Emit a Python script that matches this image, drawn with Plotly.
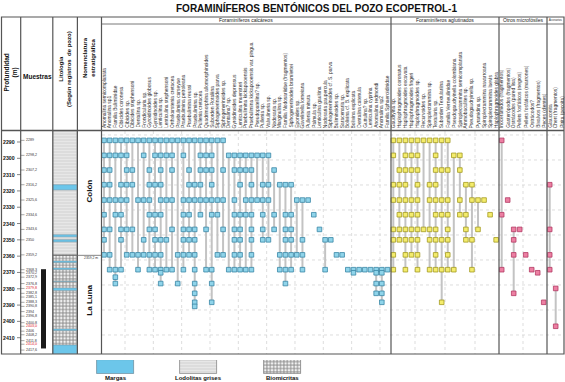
import plotly.graph_objects as go

# ---------------- DATA ----------------
depth_ticks = [2290, 2300, 2310, 2320, 2330, 2340, 2350, 2360, 2370, 2380, 2390, 2400, 2410]

sample_depths = [2289.0, 2298.2, 2307.2, 2316.2, 2325.6, 2334.6, 2343.6, 2350.0, 2359.2,
                 2368.3, 2370.2, 2372.9, 2376.8, 2379.8, 2382.8, 2385.1, 2388.3, 2390.8,
                 2394.0, 2396.8, 2400.8, 2403.0, 2406.0, 2408.2, 2411.8, 2414.0, 2417.6]
sample_labels = ["2289", "2298,2", "2307,2", "2316,2", "2325,6", "2334,6", "2343,6", "2350", "2359,2",
                 "2368,3", "2370,2", "2372,9", "2376,8", "2379,8", "2382,8", "2385,1", "2388,3", "2390,8",
                 "2394", "2396,8", "2400,8", "2403,0", "2406", "2408,2", "2411,8", "2414,0", "2417,6"]
red_labels = ["2379,8", "2403,0", "2414,0"]

calc_names = [
    "Anomalina semicomplanata", "Anomalina sp1", "Familia Buliminidae", "Cibicides coronesa",
    "Cibicides sp.", "Cibicides stephensoni", "Dentalina sp.", "Frondicularia sp.",
    "Gyroidinoides globosus", "Gyroidinoides sp.", "Lenticulina sp.", "Lenticulina stephensoni",
    "Orthokarstenia cretacea", "Praebulimina carseyae", "Praebulimina petroleana", "Praebulimina reussi",
    "Praebulimina sp.", "Pullenia cretacea", "Quadrimorphina allomorphinoides", "Suborden Rotaliina",
    "Siphogenerinoides parva", "Siphogenerinoides sp.", "Dentalina? sp.", "Gyroidinoides depressus",
    "Lenticulina muensteri", "Praebulimina kickapooensis", "Praebulimina kickapooensis var. pingua",
    "Pseudopatellina? sp.", "Pullenia sp.", "Valvulineria sp.", "Nodosaria sp.", "Marginulina sp.",
    "Familia Nodosariidae (fragmentos)", "Siphogenerinoides bramlettei", "Eponides sp.",
    "Gavelinella lorneiana", "Pullenia minuta", "Palmula sp.", "Lenticulina gaultina",
    "Nodosaria paupercula", "Siphogenerinoides cf. S. parva", "Buliminoides sp.", "Saracenaria sp.",
    "Bolivina cf. B. explicata", "Bolivina explicata", "Dentalina catenula", "Guttulina? sp.",
    "Lenticulina cyprina", "Anomalina redmondi", "Anomalina sp2", "Familia Sphaeroidinidae"]

agg_names = [
    "Gaudryina sp.", "Haplophragmoides coronatus", "Haplophragmoides excavata", "Haplophragmoides fingeri",
    "Haplophragmoides sp.", "Recurvoides sp.", "Spiroplectammina sp.", "Textularia sp.",
    "Suborden Textulariina", "Familia Verneuilinidae", "Pseudogaudryinella colombiana",
    "Spiroplectammina semicomplanata", "Ammobaculites sp.", "Pseudogaudryinella sp.", "Pyramidina sp.",
    "Spiroplectammina navarroana", "Spiroplectammina laevis", "Haplophragmoides glabra"]

other_names = ["Inocerámidos (fragmentos)", "Gasterópodos (fragmentos)", "Ostrácodos (pared lisa)",
               "Pellets fosfáticos (negros)", "Pellets fosfáticos (marrones)", "Ostrácodos?",
               "Bivalvos (fragmentos)", "Peces (dientes)"]

acc_names = ["Glauconita", "Chert (fragmentos)", "Pirita (pecoita)"]

# occurrences: sample index -> species indices present
calc_occ = {
    0: list(range(0, 22)),
    1: [0, 1, 2, 3, 4, 7, 9, 10, 11, 12, 14, 17, 18, 19, 22, 23, 24, 25, 26, 27, 28, 29],
    2: [0, 1, 4, 5, 8, 10, 12, 15, 17, 18, 19, 21, 23, 24, 25, 26, 30],
    3: [0, 1, 3, 4, 5, 8, 9, 10, 15, 16, 17, 19, 24, 26, 28, 29, 31, 32, 33],
    4: [0, 1, 2, 3, 4, 6, 7, 8, 10, 11, 12, 14, 15, 16, 17, 18, 19, 20, 21, 23, 25, 26, 27, 28, 29, 34, 35, 36],
    5: [0, 2, 3, 8, 9, 10, 14, 15, 17, 19, 20, 23, 24, 25, 26, 28, 30, 32, 33, 37],
    6: [0, 1, 3, 4, 5, 8, 9, 12, 14, 15, 16, 18, 21, 23, 24, 26, 28, 30, 32, 33, 38],
    7: [0, 3, 7, 9, 10, 11, 14, 15, 16, 23, 24, 26, 28, 29, 32, 33, 35, 39, 40],
    8: [0, 1, 4, 5, 6, 7, 8, 9, 10, 13, 14, 15, 16, 20, 21, 23, 24, 26, 31, 32, 33, 34, 35, 41, 42],
    9: [1, 2, 3, 6, 8, 9, 10, 11, 12, 14, 16, 18, 19, 22, 23, 24, 25, 26, 31, 32, 33, 35, 39,
        43, 44, 45, 46, 47, 48, 49, 50],
    10: [10, 44, 48, 49],
    11: [2],
    12: [2, 10, 13, 16, 19, 32, 48, 49],
    14: [16, 48, 49],
    16: [16, 19, 49],
    17: [16],
}
agg_occ = {
    0: list(range(0, 10)),
    1: [0, 2, 3, 4, 7, 10, 11],
    2: [1, 2, 3, 4, 7, 8, 9, 11],
    3: [0, 1, 2, 4, 6, 7, 12, 13],
    4: [0, 1, 2, 3, 4, 6, 7, 8, 9, 11, 13, 14, 15],
    5: [1, 2, 3, 4, 7, 8, 9, 11, 12, 16],
    6: [0, 1, 2, 3, 4, 5, 6, 7, 9, 12, 14],
    7: [0, 1, 2, 3, 4, 6, 7, 8, 9, 12, 13, 17],
    8: [0, 2, 3, 4, 7, 9],
    9: [0, 2, 4, 6, 7, 8, 9, 10, 13],
    16: [8],
}
other_occ = {0: [0], 4: [1], 5: [0], 6: [2, 3], 7: [2], 8: [2, 4], 9: [0, 5], 10: [6], 14: [2], 16: [7]}
acc_occ = {3: [0], 6: [0], 8: [0], 9: [0], 13: [1], 21: [1]}

lith_type = ["lod", "mar", "lod", "mar", "lod", "mar", "lod",
             "bio", "mar", "bio", "mar", "bio", "mar", "bio", "mar", "bio", "mar", "bio", "mar"]
lith_top = [2283.3, 2316.6, 2319.2, 2346.9, 2348.3, 2350.2, 2351.4,
            2359.5, 2363.0, 2364.2, 2367.4, 2368.4, 2375.0, 2376.0, 2379.6, 2381.4, 2404.6, 2406.2, 2414.6]
lith_base = [2316.6, 2319.2, 2346.9, 2348.3, 2350.2, 2351.4, 2359.5,
             2363.0, 2364.2, 2367.4, 2368.4, 2375.0, 2376.0, 2379.6, 2381.4, 2404.6, 2406.2, 2414.6, 2420.0]
legend_types = ["mar", "lod", "bio"]
legend_labels = ["Margas", "Lodolitas grises", "Biomicritas"]

formations = ["Colón", "La Luna"]
formation_label_depth = [2320.0, 2387.0]
contact_depth = 2359.5
contact_label = "2359,2 m"
core_interval = [2368.0, 2416.6]

# ---------------- LAYOUT HELPERS ----------------
W, H = 565, 382
D_TOP, D_BOT = 2283.26, 2420.0       # depth at table body top/bottom
Y_TOP, Y_BOT = 131, 354              # pixel rows of table body


def X(px):
    return px / W


def Y(py):
    return 1 - py / H


FONT = "Liberation Sans, Arial, sans-serif"
calc_x = [104.0 + 5.67 * i for i in range(len(calc_names))]
agg_x = [393.3 + 6.05 * i for i in range(len(agg_names))]
oth_x = [501.7 + 6.0 * i for i in range(len(other_names))]
acc_x = [549.7 + 6.0 * i for i in range(len(acc_names))]

fig = go.Figure()
shapes = []
ann = []


def label(x, y, text, size, xref="paper", yref="paper", xanchor="center", yanchor="middle",
          angle=0, color="#111"):
    ann.append(dict(x=x, y=y, xref=xref, yref=yref, text=text, textangle=angle, xanchor=xanchor,
                    yanchor=yanchor, showarrow=False, borderpad=0,
                    font=dict(size=size, family=FONT, color=color)))


# grid lines (dotted)
grid_depths = [2285.7 + 15.33 * k for k in range(9)]
for gd in grid_depths:
    shapes.append(dict(type="line", xref="x", yref="y", x0=102, x1=564, y0=gd, y1=gd,
                       line=dict(color="#cfcfcf", width=0.7, dash="dot"), layer="below"))
vgrid = [125 + 28.33 * k for k in range(10)] + [415, 445, 475, 523]
for gx in vgrid:
    shapes.append(dict(type="line", xref="x", yref="y", x0=gx, x1=gx, y0=D_TOP, y1=D_BOT,
                       line=dict(color="#cfcfcf", width=0.7, dash="dot"), layer="below"))

# lithology
lith_style = {
    "mar": dict(color="#6cc6ea", pattern=dict(shape="")),
    "lod": dict(color="#dcdcdc", pattern=dict(shape="-", fgcolor="#f4f4f4", size=3, solidity=0.3)),
    "bio": dict(color="#ffffff", pattern=dict(shape="+", fgcolor="#1b1b1b", bgcolor="#f2f2f2", size=3.4, solidity=0.45)),
}
for t in ["lod", "mar", "bio"]:
    tops = [lith_top[i] for i in range(len(lith_type)) if lith_type[i] == t]
    bases = [lith_base[i] for i in range(len(lith_type)) if lith_type[i] == t]
    fig.add_trace(go.Bar(x=[65.1] * len(tops), y=[b - a for a, b in zip(tops, bases)], base=tops,
                         width=24.6, marker=dict(color=lith_style[t]["color"], pattern=lith_style[t]["pattern"],
                                                 line=dict(color="#5a8fa8" if t == "mar" else "#888888", width=0.4)),
                         showlegend=False, hoverinfo="skip", xaxis="x", yaxis="y"))

# legend swatches
leg_cx = [115.5, 198, 282]
for t, cx, lab in zip(legend_types, leg_cx, legend_labels):
    fig.add_trace(go.Bar(x=[cx], y=[1], base=[0], width=37,
                         marker=dict(color=lith_style[t]["color"], pattern=lith_style[t]["pattern"],
                                     line=dict(color="#6f8fa0" if t == "mar" else "#888888", width=0.8)),
                         showlegend=False, hoverinfo="skip", xaxis="x2", yaxis="y2"))
    label(X(cx), Y(378), "<b>" + lab + "</b>", 6)

# core bar in Muestras column
shapes.append(dict(type="rect", xref="x", yref="y", x0=41, x1=46, y0=core_interval[0], y1=core_interval[1],
                   fillcolor="#1a1a1a", line=dict(width=0)))


def add_group(names, xs, occ, fill, edge):
    lx, ly = [], []
    mx, my = [], []
    for j, xj in enumerate(xs):
        ds = [sample_depths[s] for s in occ if j in occ[s]]
        if len(ds) >= 2:
            lx += [xj, xj, None]
            ly += [min(ds), max(ds), None]
        for d in ds:
            mx.append(xj)
            my.append(d)
    fig.add_trace(go.Scatter(x=lx, y=ly, mode="lines", line=dict(color="#c3c3c3", width=2),
                             showlegend=False, hoverinfo="skip"))
    fig.add_trace(go.Scatter(x=mx, y=my, mode="markers",
                             marker=dict(symbol="square", size=4.6, color=fill, line=dict(color=edge, width=0.8)),
                             showlegend=False))
    for n, xj in zip(names, xs):
        label(xj, Y(129), n, 4.9, xref="x", yanchor="bottom", angle=-90, color="#333")


add_group(calc_names, calc_x, calc_occ, "#8fd4ea", "#3a86a6")
add_group(agg_names, agg_x, agg_occ, "#f4ec6c", "#a39a22")
add_group(other_names, oth_x, other_occ, "#ec7fa2", "#b33a63")
add_group(acc_names, acc_x, acc_occ, "#ec7fa2", "#b33a63")

# table frame and dividers
line_c = "#555555"
shapes.append(dict(type="rect", xref="paper", yref="paper", x0=X(1.5), x1=X(564), y0=Y(354), y1=Y(17),
                   line=dict(color=line_c, width=1.2)))
for dx in [20.7, 52.8, 77.4, 101.5, 391, 499, 547]:
    shapes.append(dict(type="line", xref="paper", yref="paper", x0=X(dx), x1=X(dx), y0=Y(354), y1=Y(17),
                       line=dict(color=line_c, width=1.2)))
shapes.append(dict(type="line", xref="paper", yref="paper", x0=X(101.5), x1=X(564), y0=Y(24), y1=Y(24),
                   line=dict(color=line_c, width=0.8)))
shapes.append(dict(type="line", xref="paper", yref="paper", x0=X(1.5), x1=X(564), y0=Y(130.5), y1=Y(130.5),
                   line=dict(color=line_c, width=1.6)))

# depth ticks
for d in depth_ticks:
    shapes.append(dict(type="line", xref="x", yref="y", x0=17, x1=20.7, y0=d, y1=d,
                       line=dict(color="#333", width=0.6)))
    label(X(16), d, "<b>%d</b>" % d, 5.2, yref="y", xanchor="right")
# sample ticks / labels
for d, lab in zip(sample_depths, sample_labels):
    shapes.append(dict(type="line", xref="x", yref="y", x0=20.7, x1=24.5, y0=d, y1=d,
                       line=dict(color="#555", width=0.5)))
    label(X(25), d, lab, 3.6, yref="y", xanchor="left",
          color="#e0201a" if lab in red_labels else "#333")

# formations
for f, d in zip(formations, formation_label_depth):
    label(X(89.5), d, "<b>" + f + "</b>", 8, yref="y", angle=-90)
shapes.append(dict(type="line", xref="x", yref="y", x0=53, x1=101.5, y0=contact_depth, y1=contact_depth,
                   line=dict(color="#666", width=0.8)))
label(X(91), contact_depth + 1.6, contact_label, 3.4, yref="y", color="#333")

# headers
label(X(316), Y(8.5), "<b>FORAMINÍFEROS BENTÓNICOS DEL POZO ECOPETROL-1</b>", 10)
for txt, cx in [("Foraminíferos calcáreos", 246), ("Foraminíferos aglutinados", 445),
                ("Otros microfósiles", 523), ("Accesorios", 555.5)]:
    label(X(cx), Y(20.5), txt, 5 if txt != "Accesorios" else 2.6, color="#222")
label(X(10.5), Y(73), "<b>Profundidad<br>(m)</b>", 6.5, angle=-90)
label(X(37), Y(77), "<b>Muestras</b>", 6.5)
label(X(65), Y(69), "<b>Litología<br>(Según registros  de pozo)</b>", 6, angle=-90)
label(X(89), Y(58), "<b>Nomenclatura<br>estratigráfica</b>", 6, angle=-90)

fig.update_layout(
    width=W, height=H, margin=dict(l=0, r=0, t=0, b=0),
    paper_bgcolor="white", plot_bgcolor="rgba(0,0,0,0)",
    barmode="overlay", bargap=0,
    xaxis=dict(range=[0, W], domain=[0, 1], visible=False, fixedrange=True),
    yaxis=dict(range=[D_BOT, D_TOP], domain=[Y(Y_BOT), Y(Y_TOP)], visible=False),
    xaxis2=dict(range=[0, W], domain=[0, 1], visible=False, anchor="y2"),
    yaxis2=dict(range=[0, 1], domain=[Y(374), Y(360)], visible=False, anchor="x2"),
    shapes=shapes, annotations=ann, showlegend=False,
)
fig.write_html("out.html", config={"displayModeBar": False},
               post_script="document.body.style.margin='0px';document.body.style.overflow='hidden';")
